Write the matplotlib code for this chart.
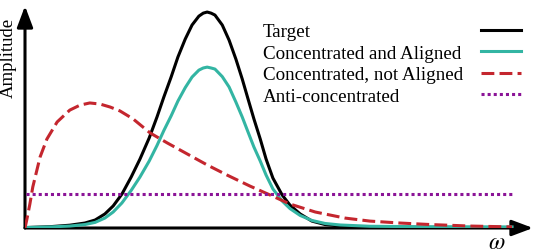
import matplotlib
matplotlib.use("Agg")
import matplotlib.pyplot as plt

plt.rcParams["font.family"] = ["Liberation Serif", "DejaVu Serif"]
plt.rcParams["mathtext.fontset"] = "stix"

# frequency grid shared by the two gaussian-like curves
omega = [0.00, 0.51, 0.92, 1.23, 1.44, 1.64, 1.81, 1.99, 2.18, 2.36,
         2.55, 2.71, 2.85, 3.00, 3.14, 3.29, 3.43, 3.57, 3.66, 3.74,
         3.82, 3.90, 4.05, 4.19, 4.33, 4.46, 4.58, 4.70, 4.83, 4.95,
         5.09, 5.28, 5.44, 5.65, 5.89, 6.16, 6.47, 7.08, 8.11, 10.00]
target = [0.002, 0.006, 0.013, 0.023, 0.037, 0.065, 0.102, 0.157, 0.236, 0.319,
          0.417, 0.514, 0.606, 0.699, 0.792, 0.875, 0.940, 0.981, 0.995, 1.000,
          0.995, 0.986, 0.940, 0.870, 0.782, 0.690, 0.597, 0.505, 0.412, 0.319,
          0.231, 0.153, 0.106, 0.065, 0.032, 0.016, 0.009, 0.005, 0.003, 0.002]
aligned = [0.002, 0.005, 0.009, 0.016, 0.026, 0.046, 0.074, 0.116, 0.174, 0.236,
           0.310, 0.382, 0.451, 0.519, 0.588, 0.650, 0.699, 0.731, 0.741, 0.745,
           0.741, 0.736, 0.701, 0.653, 0.583, 0.514, 0.444, 0.375, 0.310, 0.245,
           0.181, 0.125, 0.090, 0.058, 0.035, 0.021, 0.014, 0.008, 0.006, 0.005]

omega_na = [0.00, 0.04, 0.10, 0.16, 0.23, 0.31, 0.45, 0.66, 0.92, 1.13,
            1.33, 1.54, 1.75, 1.95, 2.22, 2.57, 2.92, 3.33, 3.74, 4.15,
            4.62, 5.03, 5.44, 5.96, 6.57, 7.08, 7.70, 8.32, 9.14, 10.00]
not_aligned = [0.000, 0.042, 0.111, 0.190, 0.255, 0.329, 0.412, 0.491, 0.546, 0.569,
               0.579, 0.574, 0.560, 0.542, 0.505, 0.440, 0.394, 0.343, 0.292, 0.245,
               0.194, 0.153, 0.111, 0.074, 0.046, 0.032, 0.023, 0.016, 0.009, 0.005]

omega_anti = [0.02, 10.00]
anti = [0.157, 0.157]

labels = ["Target", "Concentrated and Aligned",
          "Concentrated, not Aligned", "Anti-concentrated"]

LW = 2.2
fig = plt.figure(figsize=(5.4, 2.53), dpi=100)
ax = fig.add_axes([25 / 540, 24 / 253, 508 / 540, 222 / 253])

ax.plot(omega, target, color="black", lw=LW, label=labels[0], zorder=3)
ax.plot(omega, aligned, color="#33b5a3", lw=LW, label=labels[1], zorder=4)
ax.plot(omega_na, not_aligned, color="#c4262e", lw=LW, ls=(0, (4.2, 1.7)),
        dash_capstyle="butt", label=labels[2], zorder=5)
ax.plot(omega_anti, anti, color="#8b1497", lw=LW, ls=(0, (1, 1)),
        dash_capstyle="butt", label=labels[3], zorder=6)

ax.set_xlim(0, 10.43)
ax.set_ylim(0, 1.028)
ax.axis("off")

# axes drawn as arrows
arrow = dict(arrowstyle="-|>,head_length=0.8,head_width=0.3", lw=LW,
             color="black", shrinkA=0, shrinkB=0, mutation_scale=16)
ax.annotate("", xy=(1, 0), xytext=(0, 0), xycoords="axes fraction",
            arrowprops=arrow, zorder=1)
ax.annotate("", xy=(0, 1), xytext=(0, 0), xycoords="axes fraction",
            arrowprops=arrow, zorder=1)

leg = ax.legend(loc="upper left", bbox_to_anchor=(263 / 540, 1 - 24 / 253),
                bbox_transform=fig.transFigure, frameon=False, markerfirst=False,
                handlelength=2.1, handletextpad=1.0, labelspacing=0.22,
                borderpad=0, borderaxespad=0, fontsize=13.7)
# left-align the labels and push the keys to a common right edge
for item in leg._legend_handle_box.get_children()[0].get_children():
    item.mode = "expand"
    item.width = 258

fig.text(8 / 540, 1 - 58 / 253, "Amplitude", rotation=90,
         ha="center", va="center", fontsize=13.5)
fig.text(497 / 540, 1 - 249 / 253, r"$\omega$", ha="center", va="baseline",
         fontsize=17)

fig.savefig("out.png", dpi=100)
